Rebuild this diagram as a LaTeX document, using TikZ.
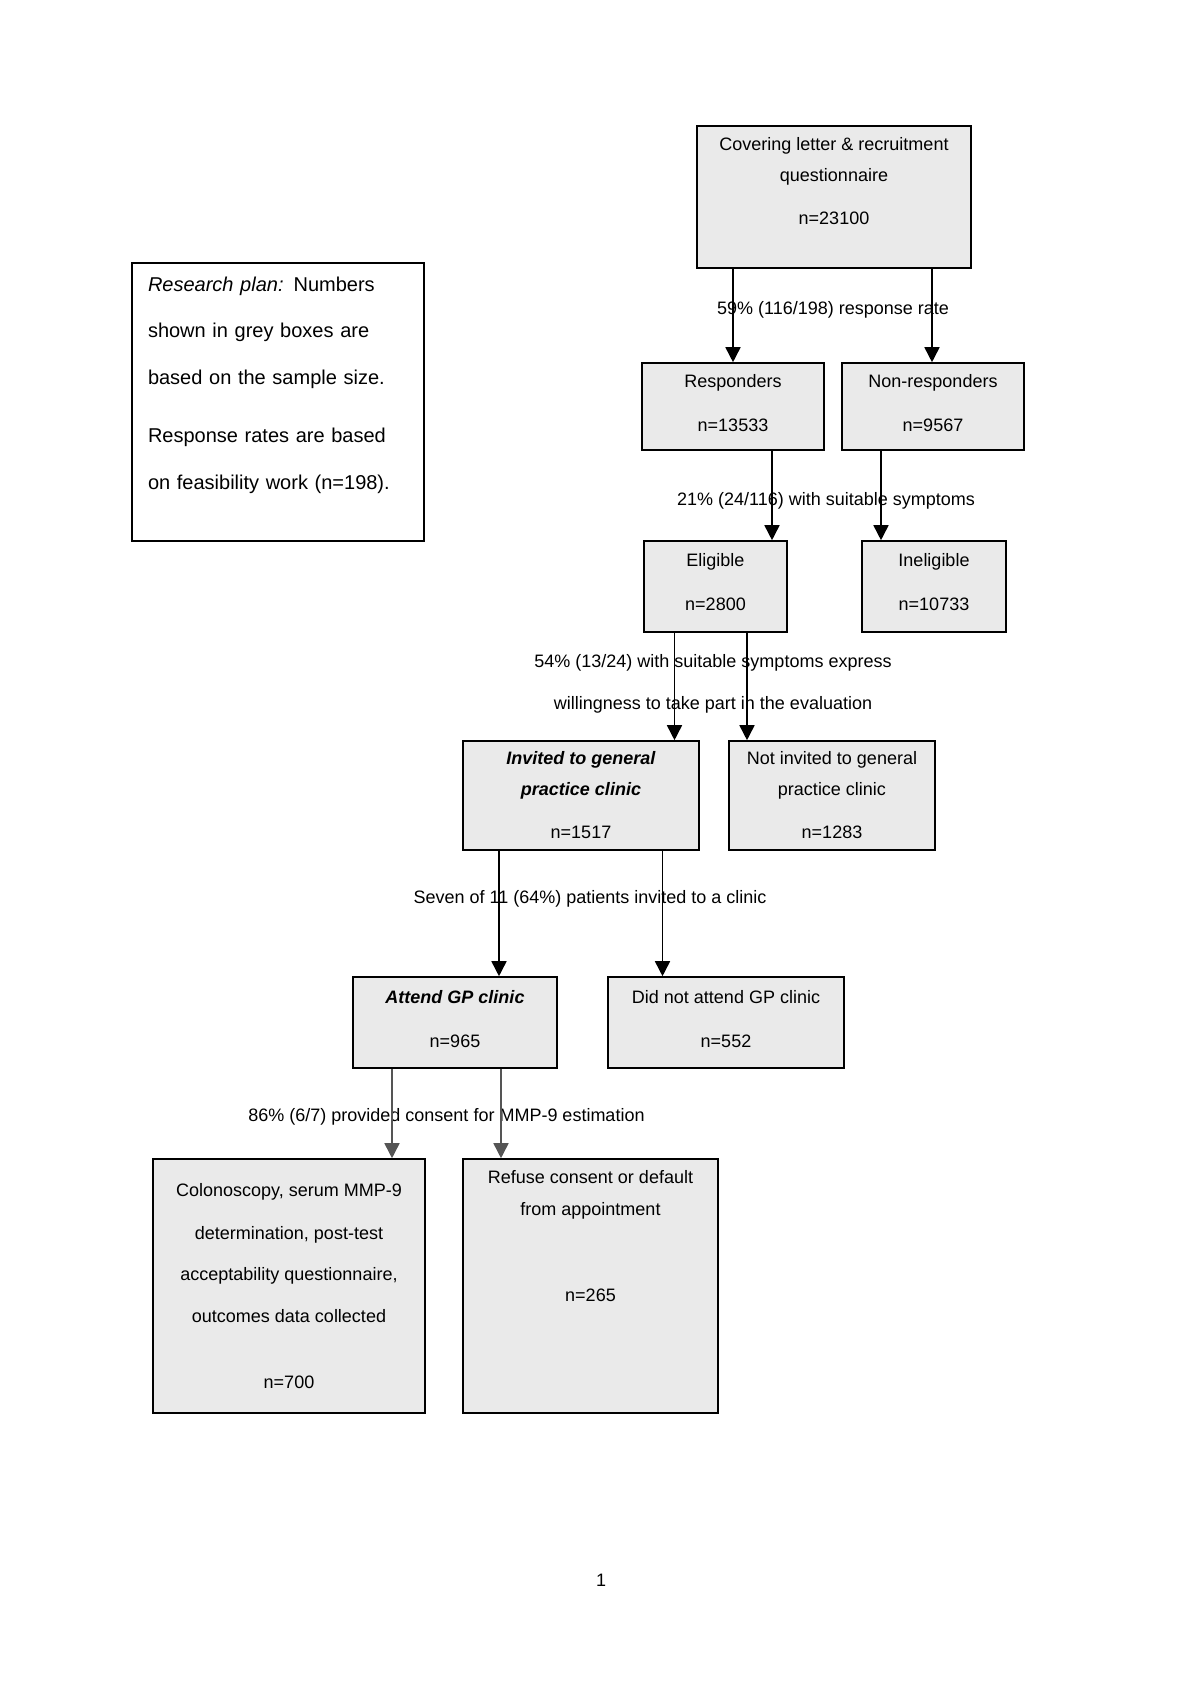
\documentclass[tikz,border=0pt]{standalone}
\usepackage{fontspec}
\setmainfont{Liberation Sans}
\usetikzlibrary{arrows.meta}
\definecolor{boxgrey}{RGB}{234,234,234}
\definecolor{arrowgrey}{RGB}{85,85,85}

\begin{document}
\begin{tikzpicture}[x=0.5pt, y=-0.5pt, >={Triangle[width=7.5pt,length=7.5pt]},
    every box/.style={draw, line width=0.8pt, fill=boxgrey, align=center, inner sep=0pt,
      font=\fontsize{9}{11}\selectfont},
    rate/.style={align=center, inner sep=0pt, font=\fontsize{9}{11}\selectfont},
    flow/.style={line width=0.8pt}]
\useasboundingbox (0,0) rectangle (1200,1699);

% key
\node [draw, line width=0.8pt, align=left, text width=130pt, inner xsep=8pt, inner ysep=0pt,
  minimum height=139pt, font=\fontsize{10}{11}\selectfont] (plan) at (278,402)
  {{\itshape Research plan:} Numbers\\[12pt]shown in grey boxes are\\[12.5pt]based on the sample size.\\[18pt]Response rates are based\\[12.5pt]on feasibility work (n=198).\\[8pt]\mbox{}};

% boxes
\node [every box, minimum width=137pt, minimum height=71pt] (letter) at (834,197)
  {Covering letter \& recruitment\\[4.5pt]questionnaire\\[10.5pt]n=23100\\[5.5pt]\mbox{}};
\node [every box, minimum width=91pt, minimum height=43.5pt] (resp) at (733,406.5)
  {Responders\\[11pt]n=13533\\[-7.5pt]\mbox{}};
\node [every box, minimum width=91pt, minimum height=43.5pt] (nonresp) at (933,406.5)
  {Non-responders\\[11pt]n=9567\\[-7.5pt]\mbox{}};
\node [every box, minimum width=71.5pt, minimum height=45.5pt] (elig) at (715.5,586.5)
  {Eligible\\[11pt]n=2800\\[-6.5pt]\mbox{}};
\node [every box, minimum width=72pt, minimum height=45.5pt] (inel) at (934,586.5)
  {Ineligible\\[11pt]n=10733\\[-6.5pt]\mbox{}};
\node [every box, minimum width=118pt, minimum height=54.5pt] (invited) at (581,795.5)
  {\textbf{\textit{Invited to general}}\\[4.5pt]\textbf{\textit{practice clinic}}\\[10.5pt]n=1517};
\node [every box, minimum width=103pt, minimum height=54.5pt] (notinv) at (832,795.5)
  {Not invited to general\\[4.5pt]practice clinic\\[10.5pt]n=1283};
\node [every box, minimum width=102pt, minimum height=45.5pt] (attend) at (455,1022.5)
  {\textbf{\textit{Attend GP clinic}}\\[11pt]n=965\\[-7pt]\mbox{}};
\node [every box, minimum width=118pt, minimum height=45.5pt] (nonattend) at (726,1022.5)
  {Did not attend GP clinic\\[11pt]n=552\\[-7pt]\mbox{}};
\node [every box, minimum width=136pt, minimum height=127pt] (colon) at (289,1286)
  {Colonoscopy, serum MMP-9\\[10.5pt]determination, post-test\\[9.5pt]acceptability questionnaire,\\[10pt]outcomes data collected\\[22pt]n=700};
\node [every box, minimum width=127.5pt, minimum height=127pt] (refuse) at (590.5,1286)
  {Refuse consent or default\\[5pt]from appointment\\[32pt]n=265\\[39.5pt]\mbox{}};

% rates
\node [rate] (rate-1) at (833,310) {59\% (116/198) response rate};
\node [rate] (rate-2) at (826,501) {21\% (24/116) with suitable symptoms};
\node [rate] (rate-3) at (713,684) {54\% (13/24) with suitable symptoms express\\[10pt]willingness to take part in the evaluation};
\node [rate] (rate-4) at (590,899) {Seven of 11 (64\%) patients invited to a clinic};
\node [rate] (rate-5) at (446.5,1117) {86\% (6/7) provided consent for MMP-9 estimation};
\node [rate] (page) at (601,1580) {1};

% arrows
\foreach \from/\to/\dx in {letter/resp/-50.5pt, letter/nonresp/49pt, resp/elig/19.5pt, nonresp/inel/-26pt,
    elig/invited/-20.5pt, elig/notinv/15.75pt, invited/attend/-41pt, invited/nonattend/40.75pt}
  \draw [flow, ->] ([xshift=\dx]\from.south) -- ([xshift=\dx]\from.south |- \to.north);

\foreach \to/\dx in {colon/-31.5pt, refuse/23pt}
  \draw [flow, arrowgrey, ->] ([xshift=\dx]attend.south) -- ([xshift=\dx]attend.south |- \to.north);

\end{tikzpicture}
\end{document}
